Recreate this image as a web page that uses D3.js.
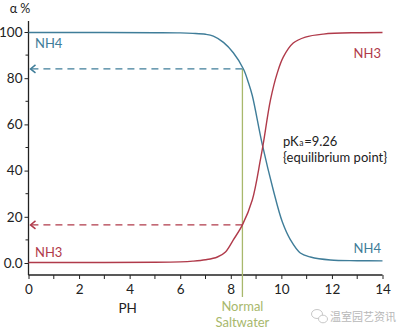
<!DOCTYPE html>
<html>
<head>
<meta charset="utf-8">
<script src="https://cdn.jsdelivr.net/npm/d3@7/dist/d3.min.js"></script>
<style>
  html, body { margin: 0; padding: 0; background: #fff; }
  svg { display: block; font-family: Lato, "Open Sans", sans-serif; }
</style>
</head>
<body>
<svg id="chart" width="400" height="334"></svg>
<script>
// Ammonia / ammonium distribution vs pH
const phNH4 = [0, 3, 5, 6.0, 6.5, 7.0, 7.31, 7.71, 8.10, 8.50, 8.70, 8.85, 9.25, 9.68, 10.04, 10.36, 10.75, 11.15, 11.94, 13, 14];
const valNH4 = [99.8, 99.8, 99.7, 99.6, 99.4, 99.0, 98.2, 95.5, 91.0, 84.0, 78.0, 72.5, 51.1, 31.6, 17.7, 10.0, 4.3, 2.6, 1.3, 1.0, 0.9];
const phNH3 = [0, 3, 5, 6.0, 6.5, 7.0, 7.47, 7.79, 8.10, 8.46, 8.85, 9.17, 9.29, 9.57, 9.84, 10.08, 10.47, 10.95, 11.66, 13, 14];
const valNH3 = [0.2, 0.2, 0.3, 0.5, 0.8, 1.4, 2.6, 4.8, 10.0, 16.5, 27.3, 44.6, 52.0, 70.6, 82.3, 89.2, 95.2, 97.8, 99.1, 99.7, 99.8];
const yTicks = [0, 20, 40, 60, 80, 100];
const yMinor = [10, 30, 50, 70, 90];
const xTicks = [0, 2, 4, 6, 8, 10, 12, 14];
const xMinor = [1, 3, 5, 7, 9, 11, 13];
const saltwaterPH = 8.46;
const arrowLevels = [84, 16.5];   // NH4 and NH3 share at saltwater pH
const pKa = 9.26;

const blue = "#3f7d99";
const red = "#b03a4a";
const green = "#a8b86c";
const ink = "#222";

const svg = d3.select("#chart");
const x = d3.scaleLinear().domain([0, 14]).range([28.5, 382.5]);
const y = d3.scaleLinear().domain([0, 100]).range([263, 32]);
const axisY = 275;

// axes
const gy = svg.append("g").attr("transform", `translate(${x(0)},0)`);
gy.call(d3.axisLeft(y).tickValues(yTicks).tickSize(4).tickPadding(2)
  .tickFormat(d => d === 0 ? "0.0" : d));
gy.select(".domain").remove();
gy.selectAll(".minor").data(yMinor).enter().append("line")
  .attr("x1", -3).attr("x2", 0).attr("y1", d => y(d)).attr("y2", d => y(d))
  .attr("stroke", ink);
gy.append("line").attr("x1", 0).attr("x2", 0).attr("y1", 21).attr("y2", axisY).attr("stroke", ink).attr("stroke-width", 1.3);

const gx = svg.append("g").attr("transform", `translate(0,${axisY})`);
gx.call(d3.axisBottom(x).tickValues(xTicks).tickSize(4).tickPadding(5));
gx.select(".domain").remove();
gx.selectAll(".minor").data(xMinor).enter().append("line")
  .attr("x1", d => x(d)).attr("x2", d => x(d)).attr("y1", 0).attr("y2", 4)
  .attr("stroke", ink);
gx.append("line").attr("x1", x(0)).attr("x2", x(14)).attr("y1", 0).attr("y2", 0).attr("stroke", ink).attr("stroke-width", 1.3);

[gx, gy].forEach(g => {
  g.selectAll(".tick line").attr("stroke", ink);
  g.selectAll(".tick text").attr("fill", ink).style("font-size", "13.5px")
    .style("font-family", "Lato, sans-serif");
});

svg.append("text").attr("x", 20).attr("y", 13).attr("text-anchor", "middle")
  .attr("fill", ink).style("font-size", "12.5px").text("α %");
svg.append("text").attr("x", x(4) - 2).attr("y", 313).attr("text-anchor", "middle")
  .attr("fill", ink).style("font-size", "13.5px").text("PH");

// saltwater marker
svg.append("line").attr("x1", x(saltwaterPH)).attr("x2", x(saltwaterPH))
  .attr("y1", y(arrowLevels[0])).attr("y2", 297)
  .attr("stroke", green).attr("stroke-width", 1.3);
const sw = svg.append("text").attr("text-anchor", "middle").attr("fill", green).style("font-size", "13px");
sw.append("tspan").attr("x", x(saltwaterPH)).attr("y", 311).text("Normal");
sw.append("tspan").attr("x", x(saltwaterPH)).attr("y", 327).text("Saltwater");

// dashed read-off arrows
[[arrowLevels[0], blue], [arrowLevels[1], red]].forEach(([v, c]) => {
  svg.append("line").attr("x1", x(saltwaterPH)).attr("x2", x(0) + 3)
    .attr("y1", y(v)).attr("y2", y(v))
    .attr("stroke", c).attr("stroke-width", 1.3).attr("stroke-dasharray", "7,5");
  svg.append("path")
    .attr("d", `M${x(0) + 7},${y(v) - 4} L${x(0) + 2},${y(v)} L${x(0) + 7},${y(v) + 4}`)
    .attr("fill", "none").attr("stroke", c).attr("stroke-width", 1.5);
});

// distribution curves
const line = d3.line().curve(d3.curveCatmullRom.alpha(0.5)).x(d => x(d[0])).y(d => y(d[1]));
svg.append("path").datum(d3.zip(phNH4, valNH4)).attr("d", line)
  .attr("fill", "none").attr("stroke", blue).attr("stroke-width", 1.4);
svg.append("path").datum(d3.zip(phNH3, valNH3)).attr("d", line)
  .attr("fill", "none").attr("stroke", red).attr("stroke-width", 1.4);

// series labels
const lab = (t, px, py, c, anchor) => svg.append("text").attr("x", px).attr("y", py)
  .attr("text-anchor", anchor).attr("fill", c).style("font-size", "13px").text(t);
lab("NH4", 35, 48, blue, "start");
lab("NH3", 35, 257, red, "start");
lab("NH3", 381, 58, red, "end");
lab("NH4", 381, 253, blue, "end");

// equilibrium annotation: pK, subscript a, then value, laid end to end
const pkParts = [["pK", 13], ["a", 8.5], ["=" + pKa, 13]];
let px = 283;
pkParts.forEach(([t, fs]) => {
  const el = svg.append("text").attr("x", px).attr("y", 146).attr("fill", ink)
    .style("font-size", fs + "px").text(t);
  px += el.node().getComputedTextLength() + 0.6;
});
svg.append("text").attr("x", 283).attr("y", 162).attr("fill", ink).style("font-size", "13px")
  .text("{equilibrium point}");

// source mark
const wm = svg.append("g").attr("fill", "#c8c8c8").attr("stroke", "#c8c8c8");
wm.append("ellipse").attr("cx", 317).attr("cy", 314).attr("rx", 5.5).attr("ry", 4.5).attr("fill", "none");
wm.append("ellipse").attr("cx", 323).attr("cy", 319).attr("rx", 4.5).attr("ry", 3.8).attr("fill", "#fff");
svg.append("text").attr("x", 330).attr("y", 321).attr("fill", "#b8b8b8")
  .style("font-family", "'Noto Sans CJK SC', sans-serif").style("font-size", "11px").text("温室园艺资讯");
</script>
</body>
</html>
